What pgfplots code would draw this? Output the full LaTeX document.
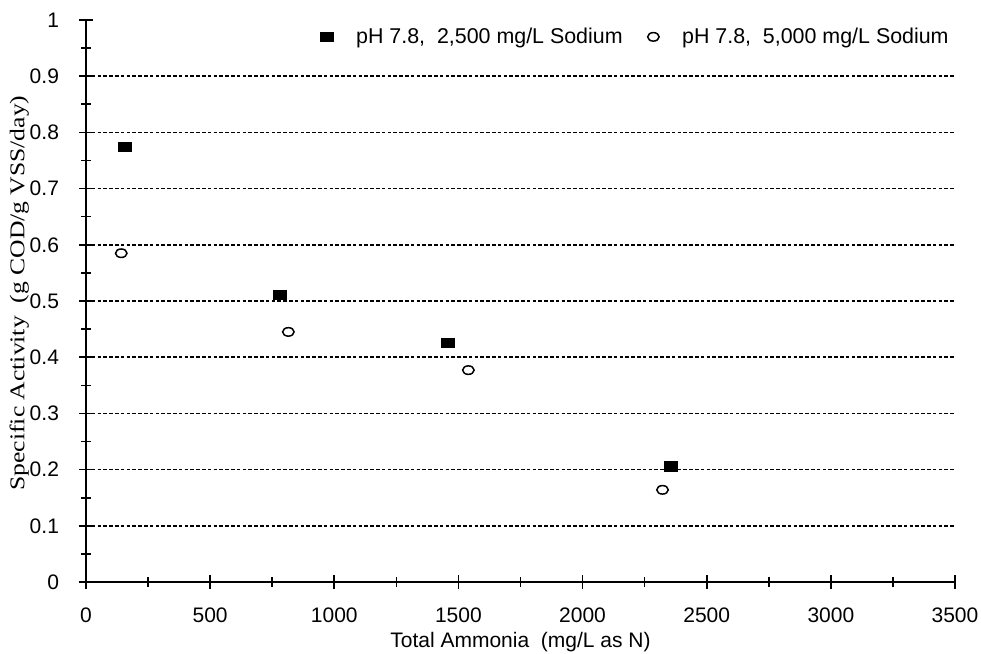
\documentclass[border=0pt]{standalone}
\usepackage{fontspec}
\setmainfont{Liberation Sans}
\newfontfamily\serifface{Liberation Serif}[FakeStretch=1.22]
\usepackage{pgfplots}
\pgfplotsset{compat=1.18}

% Specific activity measured at pH 7.8 for two sodium levels
\pgfplotstableread{
x     y
157   0.774
781   0.511
1458  0.425
2355  0.206
}\naLow
\pgfplotstableread{
x     y
142   0.585
815   0.445
1540  0.377
2322  0.164
}\naHigh

\begin{document}
\begin{tikzpicture}
\begin{axis}[
  name=ax,
  scale only axis,
  width=434.5pt, height=281pt,
  xmin=0, xmax=3500, ymin=0, ymax=1,
  axis lines*=left,
  axis line style={line width=0.9pt, black},
  xtick={0,500,1000,1500,2000,2500,3000,3500},
  ytick={0,0.1,0.2,0.3,0.4,0.5,0.6,0.7,0.8,0.9,1},
  yticklabels={0,0.1,0.2,0.3,0.4,0.5,0.6,0.7,0.8,0.9,1},
  minor x tick num=1, minor y tick num=1,
  tick align=center,
  major tick length=7pt, minor tick length=5pt,
  every tick/.style={line width=0.8pt, black},
  extra y ticks={0.1,0.2,0.3,0.4,0.5,0.6,0.7,0.8,0.9},
  extra y tick labels={},
  extra y tick style={ymajorgrids=true, major tick length=0pt},
  grid style={line width=0.75pt, black, dash pattern=on 1.8pt off 1.1pt},
  scaled ticks=false,
  /pgf/number format/assume math mode=true,
  /pgf/number format/1000 sep={},
  tick label style={font=\fontsize{10.5}{12}\selectfont},
  xticklabel style={yshift=-6pt},
  yticklabel style={xshift=-6.5pt},
  xlabel={Total Ammonia\ \ (mg/L as N)},
  xlabel style={font=\fontsize{10.5}{12}\selectfont, yshift=2pt},
  ylabel={Specific Activity\ \ (g COD/g VSS/day)},
  ylabel style={font=\serifface\fontsize{10.5}{12}\selectfont, yshift=-10pt, xshift=4pt},
  legend style={draw=none, fill=none, at={(1,0.97)}, anchor=east,
    xshift=2pt,
    font=\fontsize{10.7}{12}\selectfont,
    /tikz/every even column/.append style={column sep=10.5pt}},
  legend columns=2,
  clip=false,
]
\addplot[only marks, mark=square*, mark size=3pt, black,
  mark options={xscale=1.1, yscale=0.78}] table[x=x, y=y] {\naLow};
\addlegendentry{\hspace*{9.5pt}pH 7.8,\ \ 2,500 mg/L Sodium}
\addplot[only marks, mark=o, mark size=2.5pt, black,
  mark options={xscale=1.15, yscale=0.85, line width=0.75pt}] table[x=x, y=y] {\naHigh};
\addlegendentry{\hspace*{9.5pt}pH 7.8,\ \ 5,000 mg/L Sodium}
\end{axis}
\pgfresetboundingbox
\path ([shift={(-43pt,-36pt)}]ax.south west) rectangle ([shift={(13pt,10pt)}]ax.north east);
\end{tikzpicture}
\end{document}
